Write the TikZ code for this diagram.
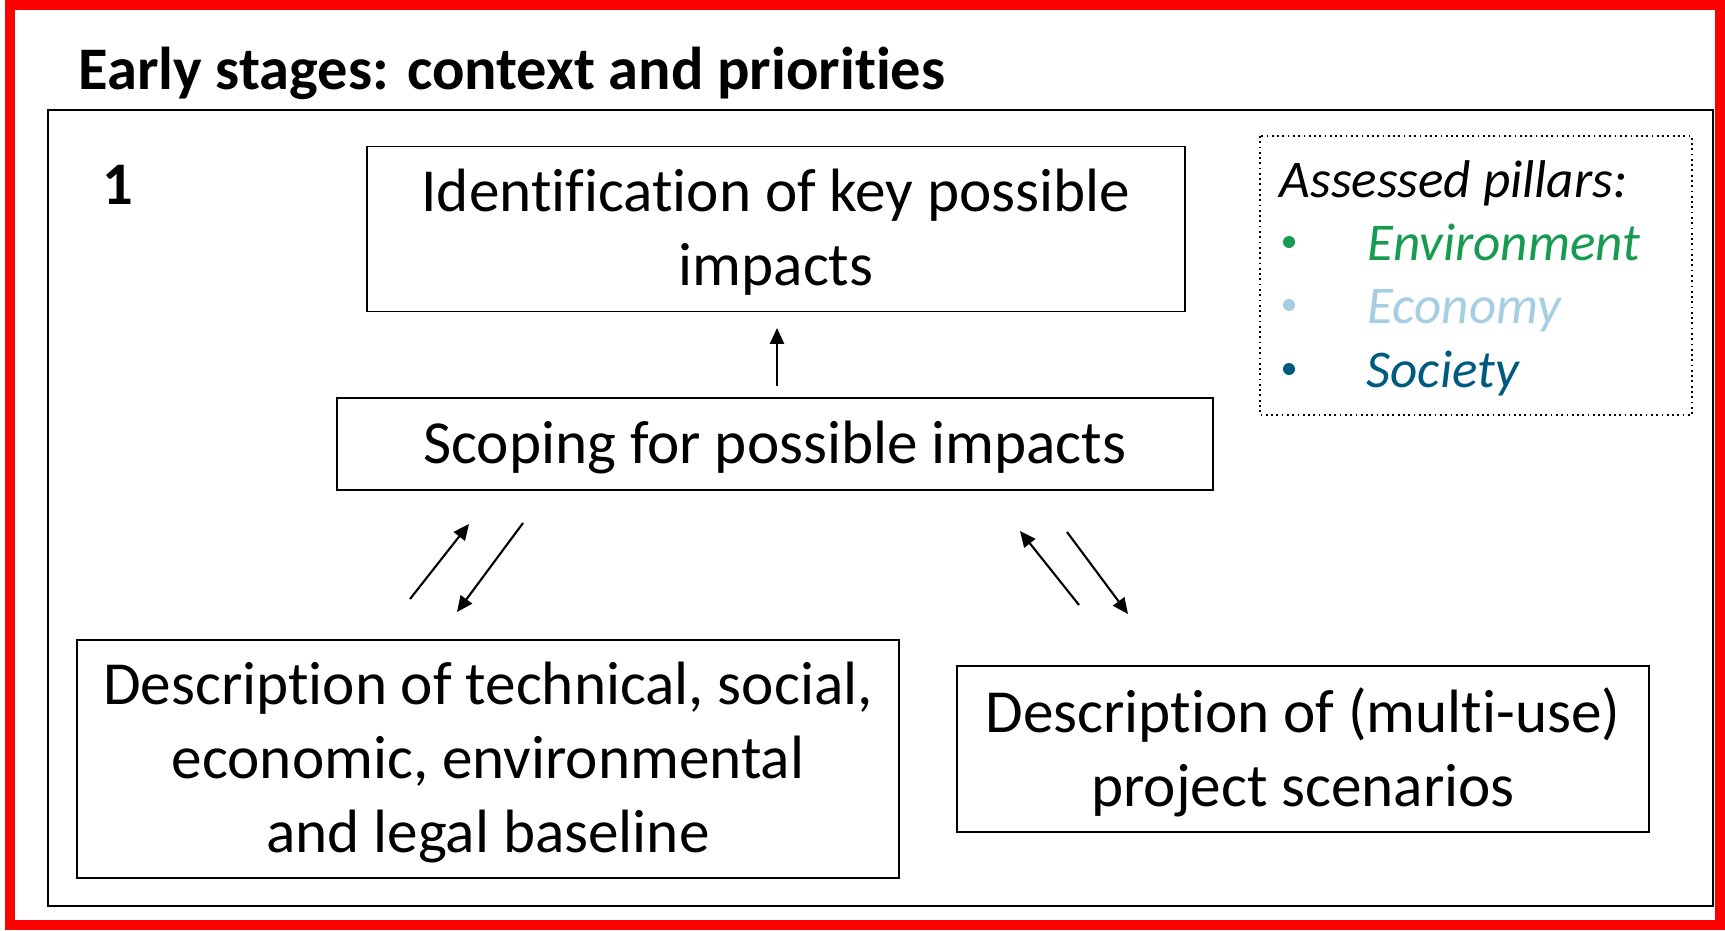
\documentclass[tikz,border=0pt]{standalone}
\usepackage{fontspec}
\setmainfont{Carlito}[Ligatures=NoCommon]
\usetikzlibrary{arrows.meta}
\definecolor{envgreen}{RGB}{22,155,80}
\definecolor{ecoblue}{RGB}{166,206,227}
\definecolor{socblue}{RGB}{0,90,128}
\tikzset{
    stepbox/.style={draw,line width=0.5pt,align=center,inner sep=0pt,text depth=1pt,
        font=\fontsize{17.4}{21}\selectfont},
    flow/.style={line width=0.6pt,-{Triangle[length=4.5pt,width=4pt]}},
    pillar/.style={anchor=base west,inner sep=0pt,font=\fontsize{15.1}{18}\selectfont\itshape},
    heading/.style={anchor=base west,inner sep=0pt,font=\fontsize{17.2}{20}\selectfont\bfseries},
}
\begin{document}
\begin{tikzpicture}[x=0.01cm,y=-0.01cm]
        \useasboundingbox (0,0) rectangle (1725,930);
        %% Frames
        \draw[red,line width=2.85pt] (10,5) rectangle (1720,925);
        \draw[line width=0.6pt] (48,110) rectangle (1713,906);
        \node[heading] (title) at (78,89) {Early stages: context and priorities};
        \node[heading] (stage) at (102,204) {1};
        %% Boxes
        \node[stepbox,minimum width=8.18cm,minimum height=1.65cm] (ident) at (776,229) {Identification of key possible\\impacts};
        \node[stepbox,minimum width=8.75cm,minimum height=0.92cm] (scope) at (775,444) {Scoping for possible impacts};
        \node[stepbox,minimum width=8.21cm,minimum height=2.38cm] (base) at (488,759) {Description of technical, social,\\economic, environmental\\and legal baseline};
        \node[stepbox,minimum width=6.91cm,minimum height=1.66cm] (scen) at (1303,749) {Description of (multi-use)\\project scenarios};
        %% Legend
        \draw[line width=0.5pt,densely dotted] (1260,136) rectangle (1692,415);
        \node[pillar] (pillars) at (1279,197) {Assessed pillars:};
        \node[pillar,envgreen] (env) at (1367,260) {Environment};
        \node[pillar,ecoblue] (eco) at (1367,323) {Economy};
        \node[pillar,socblue] (soc) at (1366,387) {Society};
        \foreach \col/\y in {envgreen/242,ecoblue/305,socblue/369}
            \fill[\col] (1289,\y) circle (6);
        %% Arrows
        \coordinate (upS) at (777,386);
        \coordinate (upE) at (777,328);
        \coordinate (bUpS) at (410,599);
        \coordinate (bUpE) at (469,524);
        \coordinate (bDnS) at (523,523);
        \coordinate (bDnE) at (457,612);
        \coordinate (sUpS) at (1079,605);
        \coordinate (sUpE) at (1020,531);
        \coordinate (sDnS) at (1067,532);
        \coordinate (sDnE) at (1128,614);
        \draw[flow] (upS) -- (upE);
        \draw[flow] (bUpS) -- (bUpE);
        \draw[flow] (bDnS) -- (bDnE);
        \draw[flow] (sUpS) -- (sUpE);
        \draw[flow] (sDnS) -- (sDnE);
    \end{tikzpicture}
\end{document}
